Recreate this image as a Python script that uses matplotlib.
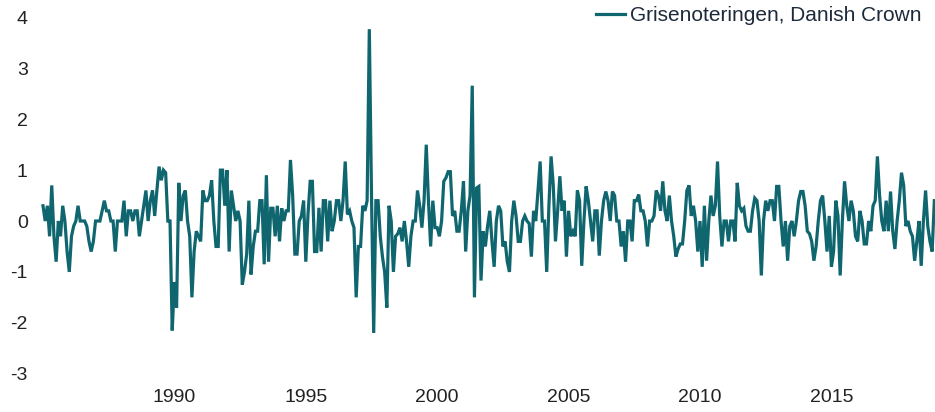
import numpy as np
import matplotlib
matplotlib.use("Agg")
from matplotlib import pyplot as plt

plt.rcParams['font.family'] = ['Liberation Sans', 'DejaVu Sans']
plt.rcParams['axes.unicode_minus'] = False

# monthly change, Danish Crown pig quotation, from Jan 1985
change = [
    0.3, 0.0, 0.3, -0.3, 0.7, -0.3, -0.8, 0.0, -0.3, 0.3,
    0.0, -0.6, -1.0, -0.3, -0.1, 0.0, 0.3, 0.0, 0.0, 0.0,
    -0.1, -0.4, -0.6, -0.4, 0.0, 0.0, 0.0, 0.2, 0.4, 0.2,
    0.2, 0.0, 0.0, -0.6, 0.0, 0.0, 0.0, 0.4, -0.3, 0.2,
    0.2, 0.0, 0.2, 0.2, -0.3, 0.0, 0.3, 0.6, 0.0, 0.4,
    0.6, 0.1, 0.6, 1.07, 0.8, 1.0, 0.95, 0.0, 0.0, -2.15,
    -1.2, -1.7, 0.75, 0.0, 0.5, 0.6, 0.0, -0.3, -1.5, -0.6,
    -0.2, -0.3, -0.4, 0.6, 0.4, 0.4, 0.5, 0.8, 0.0, -0.5,
    -0.5, 1.0, 1.0, 0.3, 1.0, -0.6, 0.6, 0.3, 0.0, 0.2,
    0.0, -1.25, -1.0, -0.65, 0.4, -1.05, -0.5, -0.2, -0.2, 0.4,
    0.4, -0.85, 0.9, -0.8, 0.25, 0.25, -0.3, 0.3, -0.4, 0.25,
    0.0, 0.2, 0.2, 1.2, 0.5, -0.65, -0.65, 0.0, 0.1, 0.4,
    -0.8, 0.13, 0.78, 0.78, -0.6, -0.6, 0.26, -0.6, 0.4, 0.4,
    -0.4, 0.4, -0.2, 0.0, 0.4, 0.4, 0.0, 0.4, 1.17, 0.13,
    0.2, 0.0, -0.13, -1.5, -0.5, -0.5, 0.3, 0.2, 0.4, 3.77,
    0.5, -2.2, 0.4, 0.4, -0.3, -0.7, -1.0, -1.7, 0.3, 0.0,
    -1.0, -0.3, -0.25, -0.13, -0.4, 0.0, -0.4, -0.9, -0.3, 0.0,
    0.0, 0.6, 0.3, -0.13, 0.4, 1.5, 0.4, -0.5, 0.4, -0.13,
    -0.13, -0.3, 0.0, 0.78, 0.85, 0.97, 0.97, 0.1, 0.2, -0.2,
    -0.2, 0.2, 0.78, -0.6, 0.2, 0.5, 2.66, -1.5, 0.65, 0.68,
    -1.17, -0.2, -0.5, -0.1, 0.2, -0.4, -0.9, 0.0, 0.3, 0.2,
    -0.5, -0.4, -0.8, -1.0, 0.0, 0.4, 0.1, -0.4, -0.4, 0.0,
    0.1, 0.0, -0.05, -0.7, 0.2, 0.0, 0.6, 1.17, 0.0, 0.0,
    -1.0, 0.3, 1.27, 0.7, -0.4, 0.2, 0.88, 0.2, 0.4, -0.7,
    0.2, -0.3, -0.2, -0.3, 0.6, 0.4, -0.88, 0.0, 0.68, 0.4,
    0.0, -0.4, 0.2, 0.2, -0.68, 0.0, 0.4, 0.58, 0.4, 0.0,
    0.58, 0.5, 0.0, 0.0, -0.5, -0.2, -0.8, 0.0, 0.0, -0.4,
    0.4, 0.4, 0.52, 0.2, 0.2, 0.0, -0.5, 0.0, 0.0, 0.1,
    0.6, 0.5, 0.2, 0.78, 0.2, 0.0, 0.5, 0.0, -0.3, -0.7,
    -0.55, -0.45, -0.45, 0.0, 0.6, 0.7, 0.1, 0.3, 0.0, -0.6,
    0.0, -0.9, 0.3, -0.78, 0.0, 0.5, 0.1, 0.3, 1.17, 0.1,
    -0.5, 0.0, 0.0, -0.4, 0.0, 0.0, -0.4, 0.75, 0.3, 0.2,
    0.25, -0.1, -0.2, -0.2, 0.2, 0.45, 0.4, 0.0, -1.07, 0.0,
    0.4, 0.2, 0.4, 0.4, 0.0, 0.68, 0.68, 0.0, -0.5, 0.0,
    -0.78, -0.1, 0.0, -0.3, 0.0, 0.4, 0.58, 0.58, 0.3, -0.2,
    -0.25, -0.4, -0.78, -0.5, 0.0, 0.4, 0.5, 0.0, -0.6, 0.1,
    -0.9, -0.6, 0.4, 0.1, -1.07, 0.0, 0.78, 0.3, 0.0, 0.4,
    0.2, -0.3, -0.4, 0.2, 0.0, -0.45, -0.45, 0.0, -0.2, 0.3,
    0.4, 1.27, 0.5, 0.0, -0.2, 0.4, -0.2, 0.58, -0.2, -0.55,
    0.0, 0.4, 0.95, 0.7, -0.1, 0.0, -0.2, -0.3, -0.78, -0.4,
    0.0, -0.88, 0.0, 0.6, -0.1, -0.4, -0.6, 0.4,
]
start_year = 1985
x_ticks = [1990, 1995, 2000, 2005, 2010, 2015]
y_ticks = [-3, -2, -1, 0, 1, 2, 3, 4]
label = "Grisenoteringen, Danish Crown"

years = start_year + np.arange(len(change)) / 12.0

fig = plt.figure(figsize=(9.35, 4.12), dpi=100)
ax = fig.add_axes([43 / 935, 0.093, 892 / 935, 0.8646])
ax.plot(years, change, color='#10666f', lw=2.3, label=label,
        solid_joinstyle='miter', clip_on=False)

ax.set_xlim(start_year, start_year + 407.3 / 12)
ax.set_ylim(-3, 4)
ax.set_xticks(x_ticks)
ax.set_yticks(y_ticks)
ax.tick_params(length=0, labelsize=14, colors='#222222')
ax.tick_params(axis='y', pad=11)
ax.tick_params(axis='x', pad=11)
for s in ax.spines.values():
    s.set_visible(False)

leg = fig.legend(loc='upper right', bbox_to_anchor=(922 / 935, 1 - 6 / 412),
                 frameon=False, fontsize=15, handlelength=1.4,
                 handletextpad=0.25, borderpad=0, borderaxespad=0)
for t in leg.get_texts():
    t.set_color('#1c2a3a')

fig.savefig('out.png', dpi=100)
